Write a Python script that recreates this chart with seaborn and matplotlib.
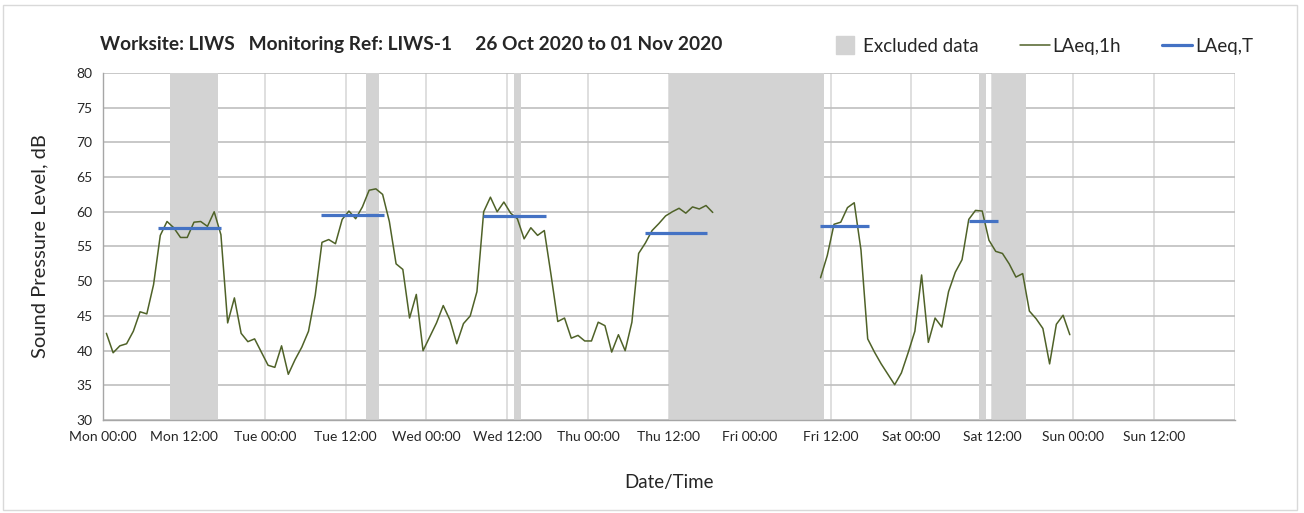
import numpy as np
import pandas as pd
import matplotlib
matplotlib.use("Agg")
import matplotlib.pyplot as plt
from matplotlib.patches import Rectangle
from matplotlib.lines import Line2D
import seaborn as sns

# hourly LAeq,1h values, hour 0 = Mon 00:00 (points at mid-hour), NaN = no data
laeq_1h = [
    42.5, 39.7, 40.7, 41.0, 42.8, 45.6, 45.3, 49.5, 56.6, 58.6, 57.7, 56.3,
    56.3, 58.5, 58.6, 57.9, 60.0, 56.7, 44.0, 47.6, 42.5, 41.3, 41.7, 39.8,
    37.9, 37.6, 40.7, 36.6, 38.7, 40.5, 42.8, 48.0, 55.6, 56.0, 55.4, 58.9,
    60.1, 59.0, 60.7, 63.1, 63.3, 62.5, 58.6, 52.5, 51.7, 44.7, 48.1, 40.0,
    42.0, 44.0, 46.5, 44.4, 41.0, 43.9, 45.0, 48.5, 60.0, 62.1, 60.0, 61.4,
    59.8, 59.0, 56.1, 57.7, 56.6, 57.3, 50.9, 44.2, 44.7, 41.8, 42.2, 41.4,
    41.4, 44.1, 43.6, 39.8, 42.3, 40.0, 44.1, 54.0, 55.5, 57.3, 58.3, 59.4,
    60.0, 60.5, 59.8, 60.7, 60.4, 60.9, 59.9, np.nan, np.nan, np.nan, np.nan, np.nan,
    np.nan, np.nan, np.nan, np.nan, np.nan, np.nan, np.nan, np.nan, np.nan, np.nan, 50.5, 53.7,
    58.2, 58.5, 60.6, 61.3, 54.5, 41.7, 39.8, 38.1, 36.6, 35.1, 36.8, 39.7,
    42.8, 50.9, 41.2, 44.7, 43.4, 48.5, 51.3, 53.1, 58.9, 60.2, 60.1, 55.9,
    54.3, 54.0, 52.5, 50.6, 51.1, 45.7, 44.6, 43.2, 38.1, 43.8, 45.1, 42.3,
]

# LAeq,T periods (start hour, end hour, level)
laeqT_start = [8.2, 32.3, 56.4, 80.4, 106.4, 128.5]
laeqT_end = [17.5, 41.7, 65.7, 89.7, 113.7, 132.8]
laeqT_level = [57.7, 59.5, 59.4, 57.0, 57.9, 58.7]

# excluded data periods (start hour, end hour)
excl_start = [10, 39, 61, 84, 130, 132]
excl_end = [17, 41, 62, 107, 131, 137]

tick_labels = ["Mon 00:00", "Mon 12:00", "Tue 00:00", "Tue 12:00", "Wed 00:00",
               "Wed 12:00", "Thu 00:00", "Thu 12:00", "Fri 00:00", "Fri 12:00",
               "Sat 00:00", "Sat 12:00", "Sun 00:00", "Sun 12:00", ""]

df = pd.DataFrame({"hour": np.arange(len(laeq_1h)) + 0.5, "LAeq": laeq_1h})
# split into segments so the gap is not joined up
df["seg"] = df["LAeq"].isna().cumsum()
df = df.dropna()

sns.set_style("white")
plt.rcParams["font.family"] = ["Lato", "DejaVu Sans"]

green = "#4f6228"
blue = "#4472c4"
grey = "#d3d3d3"
txt = "#262626"

fig, ax = plt.subplots(figsize=(13.04, 5.13), dpi=100)
fig.subplots_adjust(left=0.079, right=0.947, top=0.858, bottom=0.181)

for s, e in zip(excl_start, excl_end):
    ax.axvspan(s, e, color=grey, lw=0, zorder=1)

sns.lineplot(data=df, x="hour", y="LAeq", units="seg", estimator=None,
             color=green, lw=1.1, ax=ax, zorder=3)
ax.hlines(laeqT_level, laeqT_start, laeqT_end, color=blue, lw=2.3, zorder=4)

ax.set_xlim(0, 168)
ax.set_ylim(30, 80)
ax.set_xticks(np.arange(0, 169, 12))
ax.set_xticklabels(tick_labels)
ax.set_yticks(np.arange(30, 81, 5))

ax.grid(axis="y", color="#bfbfbf", lw=1.2, zorder=0)
ax.grid(axis="x", color="#d9d9d9", lw=1.2, zorder=0)
ax.set_axisbelow(True)
for sp in ["top", "right"]:
    ax.spines[sp].set_visible(False)
for sp in ["left", "bottom"]:
    ax.spines[sp].set_color("#a6a6a6")
    ax.spines[sp].set_linewidth(1.0)
ax.tick_params(axis="both", direction="out", length=4, width=1, color="#a6a6a6",
               labelsize=10, labelcolor=txt)
ax.tick_params(axis="x", pad=4)

ax.set_xlabel("Date/Time", fontsize=13.5, color=txt, labelpad=22)
ax.set_ylabel("Sound Pressure Level, dB", fontsize=14.5, color=txt, labelpad=20)

fig.text(0.077, 0.914, "Worksite: LIWS   Monitoring Ref: LIWS-1     26 Oct 2020 to 01 Nov 2020",
         fontsize=13.8, fontweight="bold", color=txt, va="center")

handles = [Line2D([], [], marker="s", markersize=13, color=grey, linestyle="none"),
           Line2D([], [], color=green, lw=1.1),
           Line2D([], [], color=blue, lw=2.3)]
fig.legend(handles, ["Excluded data", "LAeq,1h", "LAeq,T"], ncol=3, frameon=False,
           loc="center right", bbox_to_anchor=(0.974, 0.91), fontsize=13.5,
           handlelength=1.6, handletextpad=0.15, columnspacing=2.2, labelcolor=txt)

# outer chart frame
fig.patches.append(Rectangle((3 / 1304, 3 / 513), 1294 / 1304, 505 / 513,
                             transform=fig.transFigure, fill=False,
                             edgecolor="#d9d9d9", lw=1.0))

fig.savefig("out.png", dpi=100)
